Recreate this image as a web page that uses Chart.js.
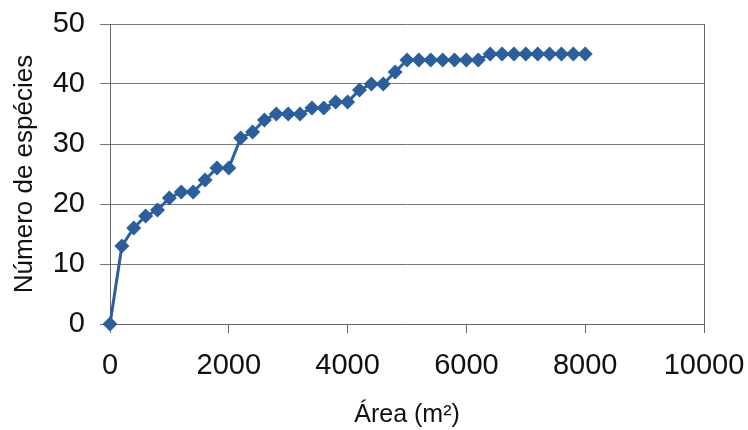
<!DOCTYPE html>
<html>
<head>
<meta charset="utf-8">
<script src="https://cdn.jsdelivr.net/npm/chart.js@4.4.0/dist/chart.umd.min.js"></script>
<style>
  body { margin: 0; background: #fff; }
  #wrap { width: 748px; height: 430px; }
</style>
</head>
<body>
<div id="wrap"><canvas id="chart" width="748" height="430"></canvas></div>
<script>
// area sampled (m2) and cumulative species count
var areas = [0, 200, 400, 600, 800, 1000, 1200, 1400, 1600, 1800, 2000,
             2200, 2400, 2600, 2800, 3000, 3200, 3400, 3600, 3800, 4000,
             4200, 4400, 4600, 4800, 5000, 5200, 5400, 5600, 5800, 6000,
             6200, 6400, 6600, 6800, 7000, 7200, 7400, 7600, 7800, 8000];
var species = [0, 13, 16, 18, 19, 21, 22, 22, 24, 26, 26,
               31, 32, 34, 35, 35, 35, 36, 36, 37, 37,
               39, 40, 40, 42, 44, 44, 44, 44, 44, 44,
               44, 45, 45, 45, 45, 45, 45, 45, 45, 45];
var xTicks = [0, 2000, 4000, 6000, 8000, 10000];
var yTicks = [0, 10, 20, 30, 40, 50];

var blue = '#2a5e9c';
var font = "'Liberation Sans', Arial, sans-serif";

// right edge of the plot box
var rightBorder = {
    id: 'rightBorder',
    afterDraw: function(chart) {
        var a = chart.chartArea, ctx = chart.ctx;
        ctx.save();
        ctx.strokeStyle = '#666';
        ctx.lineWidth = 1;
        ctx.beginPath();
        ctx.moveTo(Math.round(a.right) + 0.5, a.top);
        ctx.lineTo(Math.round(a.right) + 0.5, a.bottom);
        ctx.stroke();
        ctx.restore();
    }
};

var points = areas.map(function(a, i) { return {x: a, y: species[i]}; });

new Chart(document.getElementById('chart'), {
    type: 'scatter',
    data: {
        datasets: [{
            data: points,
            showLine: true,
            borderColor: blue,
            borderWidth: 3,
            backgroundColor: blue,
            pointStyle: 'rectRot',
            pointRadius: 7.5,
            pointBorderWidth: 0,
            clip: false
        }]
    },
    options: {
        responsive: false,
        animation: false,
        layout: { padding: { top: 24, right: 44, left: 0, bottom: 0 } },
        plugins: { legend: { display: false }, tooltip: { enabled: false } },
        scales: {
            x: {
                type: 'linear',
                min: 0, max: 10000,
                afterBuildTicks: function(s) { s.ticks = xTicks.map(function(v) { return {value: v}; }); },
                afterFit: function(s) { s.height = 106; s.paddingLeft = 0; s.paddingRight = 0; },
                grid: { drawOnChartArea: false, tickLength: 9, color: '#666' },
                border: { color: '#666' },
                ticks: {
                    color: '#111', padding: 16, maxRotation: 0,
                    font: { family: font, size: 29 },
                    callback: function(v) { return String(v); }
                },
                title: { display: true, text: 'Área (m²)', color: '#111', padding: { top: 0, bottom: 0 }, font: { family: font, size: 25 } }
            },
            y: {
                min: 0, max: 50,
                afterBuildTicks: function(s) { s.ticks = yTicks.map(function(v) { return {value: v}; }); },
                afterFit: function(s) { s.width = 110; s.paddingTop = 0; s.paddingBottom = 0; },
                grid: { tickLength: 10, color: '#777' },
                border: { color: '#666' },
                ticks: {
                    color: '#111', padding: 15,
                    font: { family: font, size: 29 },
                    callback: function(v) { return String(v); }
                },
                title: { display: true, text: 'Número de espécies', color: '#111', padding: { top: 9, bottom: 0 }, font: { family: font, size: 26 } }
            }
        }
    },
    plugins: [rightBorder]
});
</script>
</body>
</html>
